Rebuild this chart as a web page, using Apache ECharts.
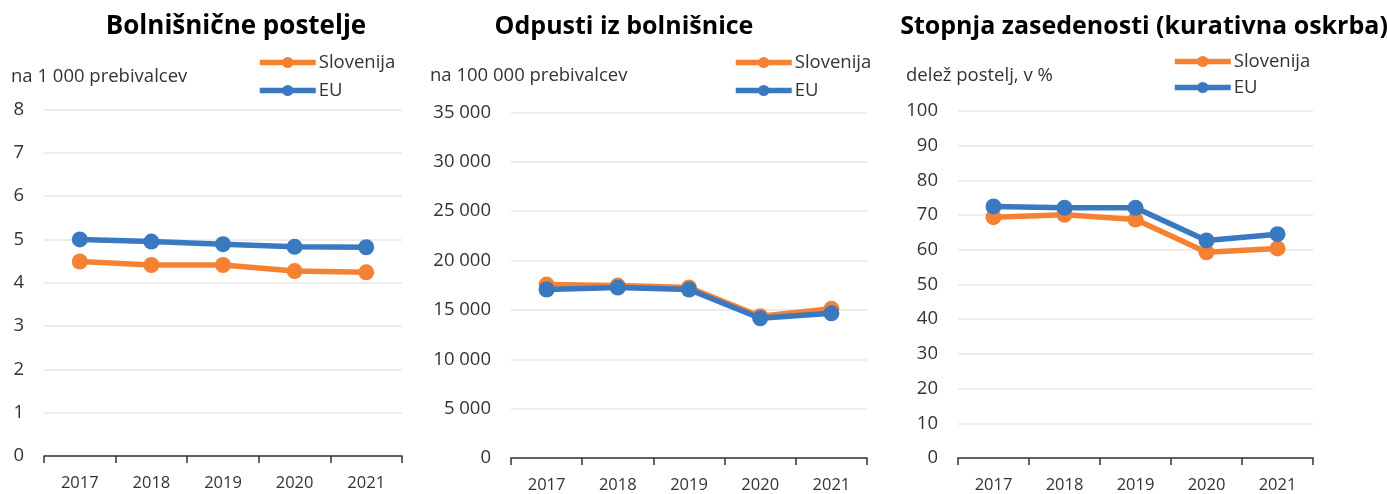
<!DOCTYPE html>
<html><head><meta charset="utf-8">
<script src="https://cdn.jsdelivr.net/npm/echarts@6/dist/echarts.min.js"></script>
<style>html,body{margin:0;padding:0;background:#fff}#c{width:1387px;height:494px}</style>
</head><body><div id="c"></div>
<script>
const years = ['2017','2018','2019','2020','2021'];
const titles = ['Bolnišnične postelje','Odpusti iz bolnišnice','Stopnja zasedenosti (kurativna oskrba)'];
const units = ['na 1 000 prebivalcev','na 100 000 prebivalcev','delež postelj, v %'];
const seriesNames = ['Slovenija','EU'];
const bedsSlovenija = [4.49, 4.41, 4.41, 4.27, 4.24];
const bedsEU = [5.00, 4.95, 4.89, 4.83, 4.82];
const dischSlovenija = [17570, 17470, 17270, 14360, 15110];
const dischEU = [17070, 17270, 17070, 14160, 14660];
const occSlovenija = [69.4, 70.1, 68.7, 59.3, 60.4];
const occEU = [72.5, 72.1, 72.1, 62.7, 64.5];
const yMax = [8, 35000, 100];
const yInterval = [1, 5000, 10];

const ORANGE = '#F58232', BLUE = '#3A78C0';
const FONT = '"Open Sans", "Noto Sans", sans-serif';
const grids = [
  {left: 44, width: 358, top: 109.5, bottom: 38},
  {left: 511, width: 356, top: 112.5, bottom: 33},
  {left: 958, width: 355, top: 111, bottom: 32}
];
const titlePos = [231, 619, 1139];
const titleSize = [26, 25, 25];
const unitPos = [[11, 67], [430, 66], [906, 66]];
const legendPos = [[252, 48], [728, 48], [1167, 47]];
const legendGap = [9, 9, 7];
const dataSets = [[bedsSlovenija, bedsEU], [dischSlovenija, dischEU], [occSlovenija, occEU]];
const fmt = v => String(v).replace(/\B(?=(\d{3})+(?!\d))/g, ' ');

const option = {
  animation: false,
  textStyle: {fontFamily: FONT},
  title: [], grid: [], xAxis: [], yAxis: [], legend: [], series: [], graphic: []
};
for (let i = 0; i < 3; i++) {
  option.title.push({text: titles[i], left: titlePos[i], top: 9, textAlign: 'center',
    textStyle: {fontFamily: FONT, fontWeight: 'bold', fontSize: titleSize[i], color: '#000'}});
  option.grid.push(Object.assign({containLabel: false}, grids[i]));
  option.xAxis.push({type: 'category', gridIndex: i, data: years, boundaryGap: true,
    axisLine: {lineStyle: {color: '#333', width: 1.5}},
    axisTick: {show: true, length: 7, inside: false, alignWithLabel: false, lineStyle: {color: '#333', width: 1.5}},
    axisLabel: {fontSize: 16.5, color: '#333', margin: 19, fontFamily: FONT}});
  option.yAxis.push({type: 'value', gridIndex: i, min: 0, max: yMax[i], interval: yInterval[i],
    axisLine: {show: false}, axisTick: {show: false},
    splitLine: {lineStyle: {color: '#e6e6e6', width: 1.5}},
    axisLabel: {fontSize: 18.5, color: '#333', margin: 20, fontFamily: FONT, formatter: fmt}});
  option.graphic.push({type: 'text', left: unitPos[i][0], top: unitPos[i][1],
    style: {text: units[i], fontSize: 18.5, fill: '#333', fontFamily: FONT}});
  option.legend.push({orient: 'vertical', left: legendPos[i][0], top: legendPos[i][1],
    itemWidth: 56, itemHeight: 14, itemGap: legendGap[i],
    lineStyle: {width: 5.5},
    data: seriesNames.map(n => ({name: n})),
    textStyle: {fontSize: 18.5, color: '#333', fontFamily: FONT, padding: [0,0,0,-2]}});
  seriesNames.forEach((n, k) => {
    option.series.push({name: n, type: 'line', xAxisIndex: i, yAxisIndex: i,
      data: dataSets[i][k], symbol: 'circle', symbolSize: 16,
      lineStyle: {width: 5.5, color: k === 0 ? ORANGE : BLUE},
      itemStyle: {color: k === 0 ? ORANGE : BLUE},
      z: k === 0 ? 2 : 3});
  });
}
const chart = echarts.init(document.getElementById('c'), null, {renderer: 'canvas'});
chart.setOption(option);
</script>
</body></html>
